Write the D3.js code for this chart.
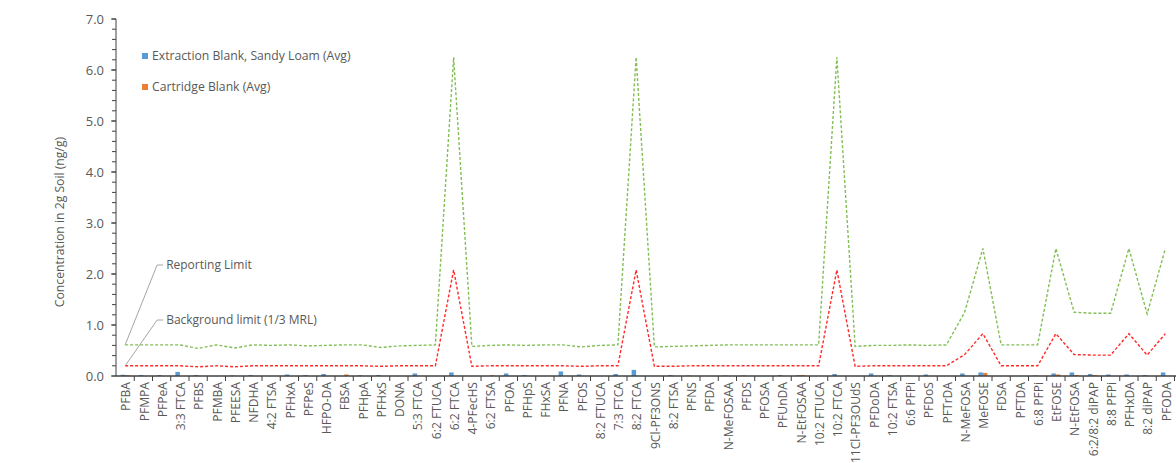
<!DOCTYPE html>
<html>
<head>
<meta charset="utf-8">
<script src="https://cdn.jsdelivr.net/npm/d3@7"></script>
<style>
  body { margin: 0; background: #fff; }
  svg text { font-family: "Open Sans", "Liberation Sans", sans-serif; fill: #595959; }
</style>
</head>
<body>
<div id="chart"></div>
<script>
const categories = ["PFBA","PFMPA","PFPeA","3:3 FTCA","PFBS","PFMBA","PFEESA","NFDHA","4:2 FTSA","PFHxA",
  "PFPeS","HFPO-DA","FBSA","PFHpA","PFHxS","DONA","5:3 FTCA","6:2 FTUCA","6:2 FTCA","4-PFecHS",
  "6:2 FTSA","PFOA","PFHpS","FHxSA","PFNA","PFOS","8:2 FTUCA","7:3 FTCA","8:2 FTCA","9Cl-PF3ONS",
  "8:2 FTSA","PFNS","PFDA","N-MeFOSAA","PFDS","PFOSA","PFUnDA","N-EtFOSAA","10:2 FTUCA","10:2 FTCA",
  "11Cl-PF3OUdS","PFDoDA","10:2 FTSA","6:6 PFPi","PFDoS","PFTrDA","N-MeFOSA","MeFOSE","FDSA","PFTDA",
  "6:8 PFPi","EtFOSE","N-EtFOSA","6:2/8:2 diPAP","8:8 PFPi","PFHxDA","8:2 diPAP","PFODA"];

const extractionBlank = [0.025,0.02,0.02,0.08,0.02,0,0.01,0.02,0,0.03,
  0.02,0.04,0,0.015,0.02,0,0.05,0,0.07,0,
  0,0.05,0.02,0,0.09,0.03,0,0.04,0.12,0,
  0.02,0.01,0,0.01,0.01,0,0.02,0.015,0,0.04,
  0,0.05,0.02,0.01,0.03,0,0.05,0.07,0,0,
  0.01,0.05,0.07,0.04,0.03,0.03,0.02,0.07];

const cartridgeBlank = [0.015,0,0,0,0,0,0,0,0,0,
  0,0,0.03,0,0,0,0,0,0,0,
  0.015,0,0,0,0,0,0,0,0,0,
  0,0,0,0,0,0,0,0.02,0,0,
  0,0,0,0,0,0,0,0.06,0,0,
  0,0.03,0.02,0.02,0,0,0,0];

const reportingLimit = [0.61,0.61,0.61,0.61,0.54,0.61,0.55,0.61,0.6,0.61,
  0.59,0.6,0.61,0.61,0.56,0.59,0.6,0.61,6.25,0.58,
  0.6,0.61,0.6,0.61,0.61,0.57,0.6,0.61,6.25,0.57,
  0.58,0.59,0.6,0.61,0.61,0.61,0.61,0.61,0.61,6.25,
  0.58,0.6,0.6,0.61,0.6,0.61,1.25,2.5,0.61,0.61,
  0.61,2.5,1.25,1.23,1.23,2.5,1.22,2.5];

const backgroundLimit = [0.2,0.2,0.2,0.2,0.18,0.2,0.18,0.2,0.2,0.2,
  0.2,0.2,0.2,0.2,0.19,0.2,0.2,0.2,2.08,0.19,
  0.2,0.2,0.2,0.2,0.2,0.19,0.2,0.2,2.08,0.19,
  0.19,0.2,0.2,0.2,0.2,0.2,0.2,0.2,0.2,2.08,
  0.19,0.2,0.2,0.2,0.2,0.2,0.42,0.83,0.2,0.2,
  0.2,0.83,0.42,0.41,0.41,0.83,0.41,0.83];

const yTicks = [0,1,2,3,4,5,6,7];

const width = 1176, height = 463;
const plotLeft = 116, plotTop = 19, plotBottom = 376;
const band = 18.25;

const svg = d3.select("#chart").append("svg")
  .attr("width", width)
  .attr("height", height);

const x = d3.scaleBand()
  .domain(categories)
  .range([plotLeft, plotLeft + categories.length * band]);

const y = d3.scaleLinear().domain([0, 7]).range([plotBottom, plotTop]);

// y axis with minor ticks
const yAxis = svg.append("g").attr("transform", `translate(${plotLeft},0)`);
yAxis.append("line")
  .attr("y1", y(7)).attr("y2", y(0))
  .attr("stroke", "#404040");
yAxis.selectAll("line.minor")
  .data(d3.range(0, 7.01, 0.2))
  .enter().append("line")
  .attr("class", "minor")
  .attr("x1", -4).attr("x2", 0)
  .attr("y1", d => y(d)).attr("y2", d => y(d))
  .attr("stroke", "#404040");
yAxis.selectAll("line.major")
  .data(yTicks)
  .enter().append("line")
  .attr("class", "major")
  .attr("x1", -5).attr("x2", 0)
  .attr("y1", d => y(d)).attr("y2", d => y(d))
  .attr("stroke", "#404040");
yAxis.selectAll("text")
  .data(yTicks)
  .enter().append("text")
  .attr("x", -12)
  .attr("y", d => y(d))
  .attr("dy", "0.35em")
  .attr("text-anchor", "end")
  .style("font-size", "13px")
  .text(d => d.toFixed(1));

svg.append("text")
  .attr("transform", `translate(64,222) rotate(-90)`)
  .attr("text-anchor", "middle")
  .style("font-size", "12.2px")
  .text("Concentration in 2g Soil (ng/g)");

// bars
const bw = 4.5;
svg.append("g").selectAll("rect")
  .data(extractionBlank)
  .enter().append("rect")
  .attr("x", (d, i) => x(categories[i]) + x.bandwidth() / 2 - bw)
  .attr("y", d => y(d))
  .attr("width", bw)
  .attr("height", d => y(0) - y(d))
  .attr("fill", "#5B9BD5");
svg.append("g").selectAll("rect")
  .data(cartridgeBlank)
  .enter().append("rect")
  .attr("x", (d, i) => x(categories[i]) + x.bandwidth() / 2)
  .attr("y", d => y(d))
  .attr("width", bw)
  .attr("height", d => y(0) - y(d))
  .attr("fill", "#ED7D31");

// x axis
const xAxis = svg.append("g");
xAxis.append("line")
  .attr("x1", plotLeft).attr("x2", width)
  .attr("y1", plotBottom).attr("y2", plotBottom)
  .attr("stroke", "#404040").attr("stroke-width", 1.3);
xAxis.selectAll("line.tick")
  .data(categories)
  .enter().append("line")
  .attr("class", "tick")
  .attr("x1", d => x(d) + x.bandwidth()).attr("x2", d => x(d) + x.bandwidth())
  .attr("y1", plotBottom).attr("y2", plotBottom + 5)
  .attr("stroke", "#404040");
xAxis.selectAll("text")
  .data(categories)
  .enter().append("text")
  .attr("transform", d => `translate(${x(d) + x.bandwidth() / 2 + 1},${plotBottom + 6}) rotate(-90)`)
  .attr("dy", "0.35em")
  .attr("text-anchor", "end")
  .style("font-size", "12.1px")
  .text(d => d);

// limit lines
const line = d3.line()
  .x((d, i) => x(categories[i]) + x.bandwidth() / 2)
  .y(d => y(d));

svg.append("path")
  .datum(reportingLimit)
  .attr("d", line)
  .attr("fill", "none")
  .attr("stroke", "#82BE55")
  .attr("stroke-width", 1.4)
  .attr("stroke-dasharray", "3,2");

svg.append("path")
  .datum(backgroundLimit)
  .attr("d", line)
  .attr("fill", "none")
  .attr("stroke", "#FF2A2A")
  .attr("stroke-width", 1.4)
  .attr("stroke-dasharray", "3,2");

// annotations
const x0 = x(categories[0]) + x.bandwidth() / 2;
const notes = [
  { label: "Reporting Limit", value: reportingLimit[0], ty: 265 },
  { label: "Background limit (1/3 MRL)", value: backgroundLimit[0], ty: 320 }
];
notes.forEach(n => {
  svg.append("polyline")
    .attr("points", `${x0},${y(n.value)} ${x0 + 32},${n.ty} ${x0 + 38},${n.ty}`)
    .attr("fill", "none")
    .attr("stroke", "#A6A6A6")
    .attr("stroke-width", 1);
  svg.append("text")
    .attr("x", x0 + 41)
    .attr("y", n.ty)
    .attr("dy", "0.35em")
    .style("font-size", "12px")
    .text(n.label);
});

// legend
const legend = [
  { label: "Extraction Blank, Sandy Loam (Avg)", color: "#5B9BD5", y: 56 },
  { label: "Cartridge Blank (Avg)", color: "#ED7D31", y: 87 }
];
legend.forEach(l => {
  svg.append("rect")
    .attr("x", 142).attr("y", l.y - 3)
    .attr("width", 6).attr("height", 6)
    .attr("fill", l.color);
  svg.append("text")
    .attr("x", 152)
    .attr("y", l.y)
    .attr("dy", "0.35em")
    .style("font-size", "12.2px")
    .text(l.label);
});
</script>
</body>
</html>
